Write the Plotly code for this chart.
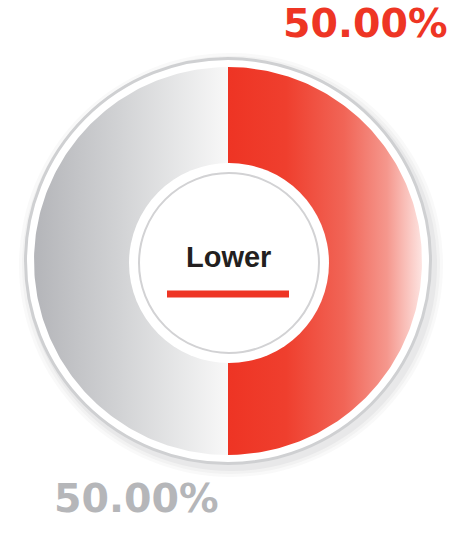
import numpy as np
import plotly.graph_objects as go

# ---- data ----
segments = ["Lower", "Other"]
shares = [50.0, 50.0]
share_labels = ["50.00%", "50.00%"]
center_label = "Lower"
seg_colorscales = [
    [[0, "#ee3424"], [0.3, "#ef3f2e"], [0.6, "#f16557"], [0.82, "#f5978d"], [1, "#fde4e1"]],
    [[0, "#b4b5b9"], [0.45, "#d2d3d5"], [1, "#f8f8f8"]],
]
label_colors = ["#ee3524", "#b5b6b9"]

# ---- geometry (pixel-like data space) ----
W, H = 473, 533
cx, cy = 228, 261
R_out, R_in = 194, 95

fig = go.Figure()

total = sum(shares)
cum = 0.0
for seg, val, cs in zip(segments, shares, seg_colorscales):
    f0, f1 = cum / total, (cum + val) / total
    cum += val
    t = np.linspace(2 * np.pi * f0, 2 * np.pi * f1, 200)
    xo = cx + R_out * np.sin(t)
    yo = cy - R_out * np.cos(t)
    xi = cx + R_in * np.sin(t[::-1])
    yi = cy - R_in * np.cos(t[::-1])
    xs = np.concatenate([xo, xi, xo[:1]])
    ys = np.concatenate([yo, yi, yo[:1]])
    fig.add_trace(go.Scatter(
        x=xs, y=ys, mode="lines", fill="toself", name=seg,
        line=dict(width=0, color="rgba(0,0,0,0)"),
        fillgradient=dict(type="horizontal", colorscale=cs,
                          start=float(xs.min()), stop=float(xs.max())),
        hoverinfo="skip", showlegend=False,
    ))

shapes = []
# soft shadow of outer ring
for r, a in [(212, 0.035), (209, 0.045), (206, 0.06)]:
    shapes.append(dict(type="circle", xref="x", yref="y", layer="below",
                       x0=cx + 3 - r, x1=cx + 3 + r, y0=cy + 4 - r, y1=cy + 4 + r,
                       fillcolor=f"rgba(90,90,95,{a})", line=dict(width=0)))
# outer white ring with grey border
Rb = 202.5
shapes.append(dict(type="circle", xref="x", yref="y", layer="below",
                   x0=cx - Rb, x1=cx + Rb, y0=cy - Rb, y1=cy + Rb,
                   fillcolor="white", line=dict(color="#cfd0d2", width=3)))
# inner white disk
ri_c = (229, 263)
Rw = 100
shapes.append(dict(type="circle", xref="x", yref="y", layer="above",
                   x0=ri_c[0] - Rw, x1=ri_c[0] + Rw, y0=ri_c[1] - Rw, y1=ri_c[1] + Rw,
                   fillcolor="white", line=dict(width=0)))
Rg = 90
shapes.append(dict(type="circle", xref="x", yref="y", layer="above",
                   x0=ri_c[0] - Rg, x1=ri_c[0] + Rg, y0=ri_c[1] - Rg, y1=ri_c[1] + Rg,
                   fillcolor="rgba(0,0,0,0)", line=dict(color="#d2d2d4", width=2)))
# red underline
shapes.append(dict(type="line", xref="x", yref="y", layer="above",
                   x0=167, x1=289, y0=294, y1=294,
                   line=dict(color="#ee3524", width=7)))

annotations = [
    dict(x=228, y=257, xref="x", yref="y", text=f"<b>{center_label}</b>", showarrow=False,
         xanchor="center", yanchor="middle",
         font=dict(family="Liberation Sans, Arial", size=29, color="#231f20")),
    dict(x=365, y=23, xref="x", yref="y", text=f"<b>{share_labels[0]}</b>", showarrow=False,
         xanchor="center", yanchor="middle",
         font=dict(family="DejaVu Sans", size=39.5, color=label_colors[0])),
    dict(x=136.5, y=498, xref="x", yref="y", text=f"<b>{share_labels[1]}</b>", showarrow=False,
         xanchor="center", yanchor="middle",
         font=dict(family="DejaVu Sans", size=39.5, color=label_colors[1])),
]

fig.update_layout(
    width=W, height=H, autosize=False,
    margin=dict(l=0, r=0, t=0, b=0),
    paper_bgcolor="white", plot_bgcolor="white",
    xaxis=dict(range=[0, W], visible=False, fixedrange=True),
    yaxis=dict(range=[H, 0], visible=False, fixedrange=True),
    shapes=shapes, annotations=annotations,
    showlegend=False,
)

fig.write_html("out.html", config={"displayModeBar": False},
               post_script="document.body.style.margin='0';")
